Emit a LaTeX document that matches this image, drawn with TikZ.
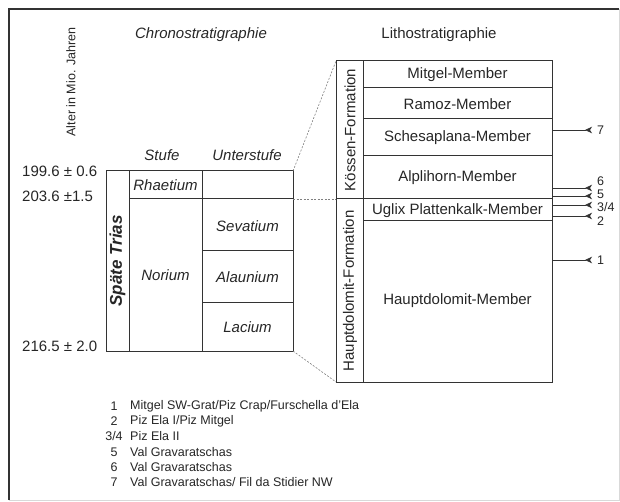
\documentclass[tikz,border=0pt]{standalone}
\usepackage{fontspec}
\setmainfont{Liberation Sans}
\usepackage{tikz}
\usetikzlibrary{arrows.meta}

\begin{document}
\begin{tikzpicture}[x=1pt, y=-1pt,
  txt/.style={font=\fontsize{15}{15}\selectfont, text=black!85, inner sep=0pt},
  txtit/.style={txt, font=\fontsize{15}{15}\selectfont\itshape},
  small/.style={font=\fontsize{12.5}{12.5}\selectfont, text=black!85, inner sep=0pt},
  box/.style={black!80, line width=1pt},
  guide/.style={black!50, line width=0.6pt, dash pattern=on 2pt off 1.5pt},
  probe/.style={black!80, line width=0.7pt, -{Stealth[reversed, length=7pt, width=6.5pt, inset=2pt]}}]
  \useasboundingbox (0,0) rectangle (620,502);
  % frame
  \draw[black!80, line width=1.6pt] (9,500) -- (9,9) -- (619,9);
  \draw[black!15, line width=0.8pt] (619,9) -- (619,500) -- (9,500);
  % headings
  \node[txtit] (chrono) at (201,35) {Chronostratigraphie};
  \node[txt] (litho) at (439,35) {Lithostratigraphie};
  \node[small, rotate=90] (alter) at (71,82) {Alter in Mio. Jahren};
  \node[txtit] (stufe) at (162,155) {Stufe};
  \node[txtit] (unter) at (247,155) {Unterstufe};
  % ages
  \node[txt, anchor=west] (a1) at (22,171) {199.6 ± 0.6};
  \node[txt, anchor=west] (a2) at (22,196) {203.6 ±1.5};
  \node[txt, anchor=west] (a3) at (22,346) {216.5 ± 2.0};
  % chronostratigraphy table
  \draw[box] (106,171) rectangle (129,351);
  \draw[box] (129,171) rectangle (202,199);
  \draw[box] (202,171) rectangle (293,199);
  \draw[box] (129,199) rectangle (202,351);
  \draw[box] (202,199) rectangle (293,251);
  \draw[box] (202,251) rectangle (293,302);
  \draw[box] (202,302) rectangle (293,351);
  \node[txt, font=\fontsize{17}{17}\selectfont\bfseries\itshape, rotate=90] (trias) at (117.5,261) {Späte Trias};
  \node[txtit] (rhaet) at (165.5,185) {Rhaetium};
  \node[txtit] (norium) at (165.5,275) {Norium};
  \node[txtit] (sevat) at (247.5,226) {Sevatium};
  \node[txtit] (alaun) at (247.5,277) {Alaunium};
  \node[txtit] (lacium) at (247.5,327) {Lacium};
  % lithostratigraphy table
  \draw[box] (336,61) rectangle (363,199);
  \draw[box] (336,199) rectangle (363,382);
  \draw[box] (363,61) rectangle (552,88);
  \draw[box] (363,88) rectangle (552,119);
  \draw[box] (363,119) rectangle (552,156);
  \draw[box] (363,156) rectangle (552,199);
  \draw[box] (363,199) rectangle (552,221);
  \draw[box] (363,221) rectangle (552,382);
  \node[txt, rotate=90] (koessen) at (350,130) {Kössen-Formation};
  \node[txt, rotate=90] (haupt) at (350,291) {Hauptdolomit-Formation};
  \node[txt] (mitgel) at (457.5,75) {Mitgel-Member};
  \node[txt] (ramoz) at (457.5,104) {Ramoz-Member};
  \node[txt] (schesa) at (457.5,138) {Schesaplana-Member};
  \node[txt] (alpli) at (457.5,178) {Alplihorn-Member};
  \node[txt] (uglix) at (457.5,210.5) {Uglix Plattenkalk-Member};
  \node[txt] (hdm) at (457.5,301) {Hauptdolomit-Member};
  % dashed links
  \coordinate (ct) at (293,171);
  \coordinate (cr) at (293,199);
  \coordinate (cb) at (293,351);
  \coordinate (lt) at (336,61);
  \coordinate (lr) at (336,199);
  \coordinate (lb) at (336,382);
  \draw[guide] (ct) -- (lt);
  \draw[guide] (cr) -- (lr);
  \draw[guide] (cb) -- (lb);
  % sample positions
  \coordinate (s7) at (553,130);  \coordinate (e7) at (592,130);
  \coordinate (s6) at (553,188);  \coordinate (e6) at (592,188);
  \coordinate (s5) at (553,196);  \coordinate (e5) at (592,196);
  \coordinate (s34) at (553,205); \coordinate (e34) at (592,205);
  \coordinate (s2) at (553,216);  \coordinate (e2) at (592,216);
  \coordinate (s1) at (553,260);  \coordinate (e1) at (592,260);
  \draw[probe] (s7) -- (e7);
  \draw[probe] (s6) -- (e6);
  \draw[probe] (s5) -- (e5);
  \draw[probe] (s34) -- (e34);
  \draw[probe] (s2) -- (e2);
  \draw[probe] (s1) -- (e1);
  \node[small, anchor=west] (n7) at (597,130) {7};
  \node[small, anchor=west] (n6) at (597,181) {6};
  \node[small, anchor=west] (n5) at (597,194) {5};
  \node[small, anchor=west] (n34) at (597,207) {3/4};
  \node[small, anchor=west] (n2) at (597,221) {2};
  \node[small, anchor=west] (n1) at (597,260) {1};
  % legend
  \node[small] (k1) at (114,406) {1};
  \node[small] (k2) at (114,421) {2};
  \node[small] (k34) at (114,436) {3/4};
  \node[small] (k5) at (114,452) {5};
  \node[small] (k6) at (114,467) {6};
  \node[small] (k7) at (114,482) {7};
  \node[small, anchor=west] (t1) at (130,406) {Mitgel SW-Grat/Piz Crap/Furschella d'Ela};
  \node[small, anchor=west] (t2) at (130,421) {Piz Ela I/Piz Mitgel};
  \node[small, anchor=west] (t34) at (130,436) {Piz Ela II};
  \node[small, anchor=west] (t5) at (130,452) {Val Gravaratschas};
  \node[small, anchor=west] (t6) at (130,467) {Val Gravaratschas};
  \node[small, anchor=west] (t7) at (130,482) {Val Gravaratschas/ Fil da Stidier NW};
\end{tikzpicture}
\end{document}
